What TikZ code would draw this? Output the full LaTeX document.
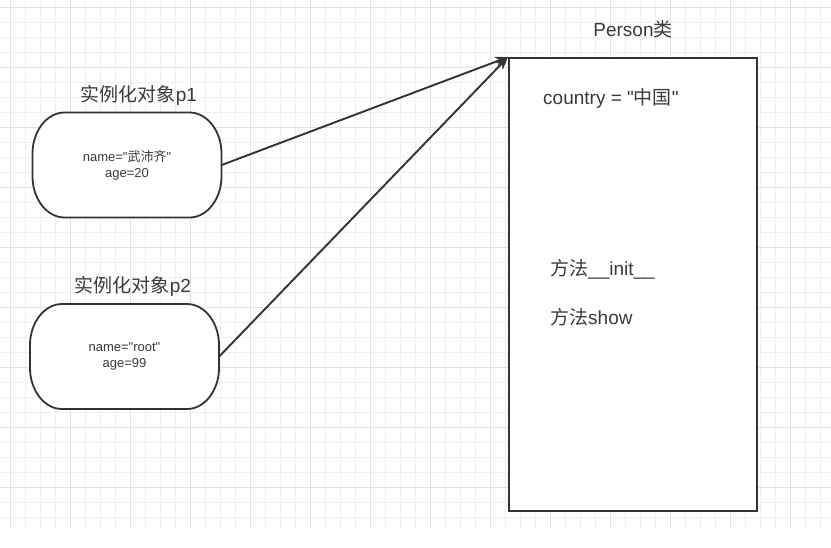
\documentclass[tikz,border=0pt]{standalone}
\usepackage{fontspec}
\setmainfont{Liberation Sans}[Ligatures=TeXOff]
\newfontfamily\cjkfont{Noto Sans CJK SC}[Ligatures=TeXOff]
\newcommand\zhtxt[1]{{\cjkfont #1}}
\usetikzlibrary{arrows.meta}
\definecolor{gridminor}{HTML}{EFEFEF}
\definecolor{gridmajor}{HTML}{E2E2E2}
\definecolor{ink}{HTML}{333333}
\definecolor{txt}{HTML}{3A3A3A}
\tikzset{
  objline/.style={draw=ink, line width=1.8pt, fill=white},
  obj/.style={minimum width=189pt, minimum height=105pt, align=center,
    font=\fontsize{13}{16}\selectfont, text=txt, inner sep=0pt},
  title/.style={font=\fontsize{19}{22}\selectfont, text=txt, inner sep=0pt},
  member/.style={font=\fontsize{19}{22}\selectfont, text=txt, inner sep=0pt, anchor=west},
  clsbox/.style={draw=ink, line width=1.9pt, fill=white, minimum width=248pt,
    minimum height=453pt, inner sep=0pt},
  arr/.style={draw=ink, line width=1.9pt, -{Stealth[length=13pt,width=10pt]}}
}
% rounded object outline: half width 94.5, half height 52.5, corner radii 32 x 41
\newcommand\objshape[1]{%
  \begin{scope}[shift={(#1)}]
  \path[objline] (-62.5,-52.5) -- (62.5,-52.5)
    .. controls (80,-52.5) and (94.5,-34) .. (94.5,-11.5) -- (94.5,11.5)
    .. controls (94.5,34) and (80,52.5) .. (62.5,52.5) -- (-62.5,52.5)
    .. controls (-80,52.5) and (-94.5,34) .. (-94.5,11.5) -- (-94.5,-11.5)
    .. controls (-94.5,-34) and (-80,-52.5) .. (-62.5,-52.5) -- cycle;
  \end{scope}}
\begin{document}
\begin{tikzpicture}[x=1pt,y=-1pt]
\useasboundingbox (0,0) rectangle (831,547);
\fill[white] (0,0) rectangle (831,547);
% grid
\foreach \k in {0,...,54}{
  \pgfmathtruncatemacro{\m}{mod(\k,4)}
  \ifnum\m=0 \draw[gridmajor,line width=0.9pt] ({10+15*\k},0) -- ({10+15*\k},528);
  \else \draw[gridminor,line width=0.8pt] ({10+15*\k},0) -- ({10+15*\k},528);\fi
}
\foreach \k in {0,...,34}{
  \pgfmathtruncatemacro{\m}{mod(\k,4)}
  \ifnum\m=0 \draw[gridmajor,line width=0.9pt] (0,{7+15*\k}) -- (831,{7+15*\k});
  \else \draw[gridminor,line width=0.8pt] (0,{7+15*\k}) -- (831,{7+15*\k});\fi
}
% class box
\node[clsbox] (cls) at (633,284.5) {};
\node[title] (clsname) at (633,29) {Person\zhtxt{类}};
\node[member] (country) at (543,98) {country = "\zhtxt{中国}"};
\node[member] (init) at (550,269) {\zhtxt{方法}\_\_init\_\_};
\node[member] (show) at (550,317) {\zhtxt{方法}show};
% objects
\coordinate (c1) at (127,165);
\coordinate (c2) at (124.5,356.5);
\objshape{c1}
\objshape{c2}
\node[obj] (p1) at (c1) {name="\zhtxt{武沛齐}"\\age=20};
\node[title] (t1) at (139,95) {\zhtxt{实例化对象}p1};
\node[obj] (p2) at (c2) {name="root"\\age=99};
\node[title] (t2) at (133,286) {\zhtxt{实例化对象}p2};
% arrows
\draw[arr] (p1.east) -- (cls.north west);
\draw[arr] (p2.east) -- (cls.north west);
\end{tikzpicture}
\end{document}
